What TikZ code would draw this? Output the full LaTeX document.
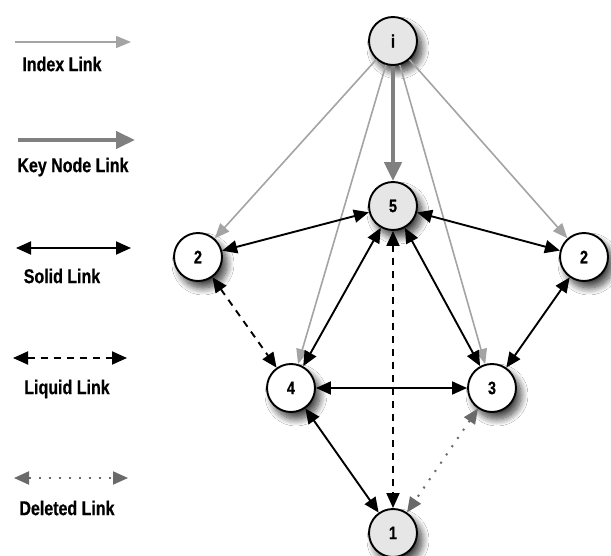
\documentclass[tikz,border=0pt]{standalone}
\usepackage{fontspec}
\setmainfont{Liberation Sans}[FakeStretch=0.8,BoldFeatures={FakeBold=0.6}]
\usetikzlibrary{arrows.meta,shadows.blur}
\definecolor{idxgray}{HTML}{A4A4A4}
\definecolor{keygray}{HTML}{808080}
\definecolor{delgray}{HTML}{6A6A6A}
\definecolor{nodefill}{HTML}{E6E6E6}
\begin{document}
\begin{tikzpicture}[x=1pt,y=-1pt,
  nd/.style={circle,draw=black,line width=1.9pt,minimum size=48pt,inner sep=0pt,
    font=\fontsize{18}{18}\selectfont\bfseries,
    blur shadow={shadow xshift=5pt,shadow yshift=-7pt,shadow blur steps=12,shadow blur radius=7pt,shadow opacity=75}},
  ndg/.style={nd,fill=nodefill},
  ndw/.style={nd,fill=white},
  lbl/.style={font=\fontsize{20}{20}\selectfont\bfseries,inner sep=0pt},
  idx/.style={draw=idxgray,line width=1.6pt,-{Triangle[length=15pt,width=12pt,fill=idxgray]}},
  keyl/.style={draw=keygray,line width=4.5pt,-{Triangle[length=19pt,width=17pt,fill=keygray]}},
  solid2/.style={draw=black,line width=1.9pt,{Triangle[length=15pt,width=13pt]}-{Triangle[length=15pt,width=13pt]}},
  liquid/.style={solid2,dash pattern=on 7pt off 6pt},
  deleted/.style={draw=delgray,line width=2pt,dash pattern=on 2pt off 8pt,
    {Triangle[length=15pt,width=13pt,fill=delgray]}-{Triangle[length=15pt,width=13pt,fill=delgray]}}
]
\useasboundingbox (0,0) rectangle (611,556);
\fill[white] (0,0) rectangle (611,556);

% nodes
\node[ndg] (ni) at (393,41) {i};
\node[ndg] (n5) at (393,206) {5};
\node[ndw] (n2l) at (198,257) {2};
\node[ndw] (n2r) at (584,257) {2};
\node[ndw] (n4) at (291,388) {4};
\node[ndw] (n3) at (492,388) {3};
\node[ndg] (n1) at (393,533) {1};

% index links
\draw[idx] (ni) -- (n2l);
\draw[idx] (ni) -- (n4);
\draw[idx] (ni) -- (n3);
\draw[idx] (ni) -- (n2r);
\draw[keyl] (ni) -- (n5);

% solid links
\draw[solid2] (n2l) -- (n5);
\draw[solid2] (n5) -- (n2r);
\draw[solid2] (n5) -- (n4);
\draw[solid2] (n5) -- (n3);
\draw[solid2] (n2r) -- (n3);
\draw[solid2] (n4) -- (n3);
\draw[solid2] (n4) -- (n1);
% liquid links
\draw[liquid] (n2l) -- (n4);
\draw[liquid] (n5) -- (n1);
% deleted link
\draw[deleted] (n3) -- (n1);

% legend
\coordinate (a1) at (15,42);  \coordinate (b1) at (131,42);
\coordinate (a2) at (18,140); \coordinate (b2) at (135,140);
\coordinate (a3) at (16,248); \coordinate (b3) at (131,248);
\coordinate (a4) at (13,358); \coordinate (b4) at (127,358);
\coordinate (a5) at (14,478); \coordinate (b5) at (128,478);
\draw[idx] (a1) -- (b1);
\draw[keyl] (a2) -- (b2);
\draw[solid2] (a3) -- (b3);
\draw[liquid] (a4) -- (b4);
\draw[deleted] (a5) -- (b5);
\node[lbl] (l1) at (62,64) {Index Link};
\node[lbl] (l2) at (73,167) {Key Node Link};
\node[lbl] (l3) at (62,276) {Solid Link};
\node[lbl] (l4) at (67,389) {Liquid Link};
\node[lbl] (l5) at (67,508) {Deleted Link};
\end{tikzpicture}
\end{document}
